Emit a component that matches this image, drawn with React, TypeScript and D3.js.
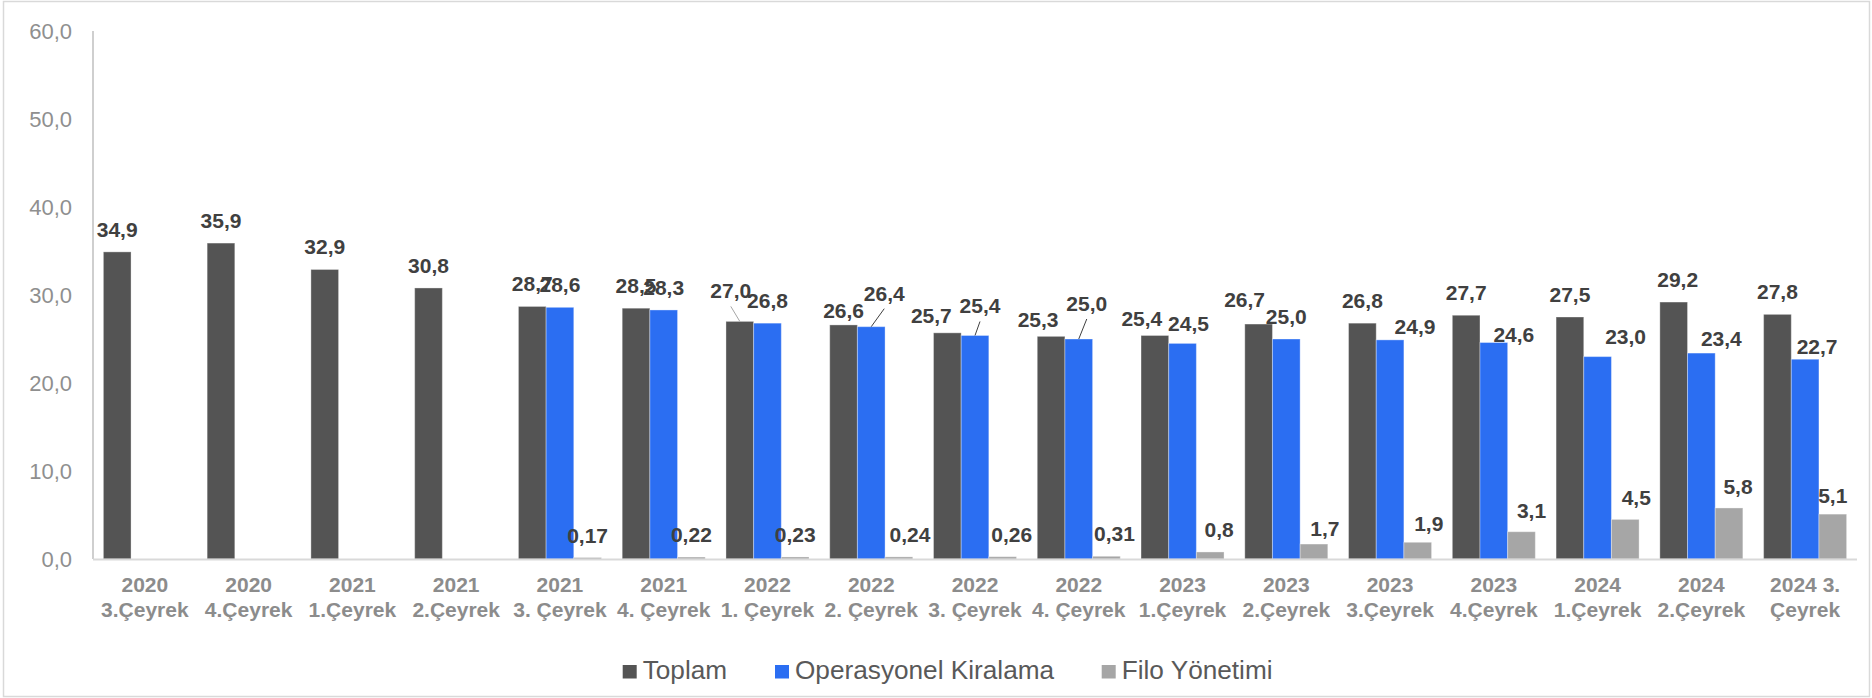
import React from "react";
import * as d3 from "d3";

const catLine1 = ["2020", "2020", "2021", "2021", "2021", "2021", "2022", "2022", "2022", "2022", "2023", "2023", "2023", "2023", "2024", "2024", "2024 3."];
const catLine2 = ["3.Çeyrek", "4.Çeyrek", "1.Çeyrek", "2.Çeyrek", "3. Çeyrek", "4. Çeyrek", "1. Çeyrek", "2. Çeyrek", "3. Çeyrek", "4. Çeyrek", "1.Çeyrek", "2.Çeyrek", "3.Çeyrek", "4.Çeyrek", "1.Çeyrek", "2.Çeyrek", "Çeyrek"];

const toplam = [34.9, 35.9, 32.9, 30.8, 28.7, 28.5, 27.0, 26.6, 25.7, 25.3, 25.4, 26.7, 26.8, 27.7, 27.5, 29.2, 27.8];
const operasyonel = [null, null, null, null, 28.6, 28.3, 26.8, 26.4, 25.4, 25.0, 24.5, 25.0, 24.9, 24.6, 23.0, 23.4, 22.7];
const filo = [null, null, null, null, 0.17, 0.22, 0.23, 0.24, 0.26, 0.31, 0.8, 1.7, 1.9, 3.1, 4.5, 5.8, 5.1];

const seriesNames = ["Toplam", "Operasyonel Kiralama", "Filo Yönetimi"];
const seriesColors = ["#545454", "#2B6EF2", "#A6A6A6"];
const yTicks = [0, 10, 20, 30, 40, 50, 60];

// manual label nudges (dx, dy) as placed in the original chart
const nudgeToplam: [number, number][] = [[0,0],[0,0],[0,0],[0,0],[0,0],[0,0],[-9,-8],[0,8],[-16,5],[-13,6],[-13,5.5],[-14,-2],[0,0],[0,0],[0,0],[4,0],[0,0]];
const nudgeOperasyonel: [number, number][] = [[0,0],[0,0],[0,0],[0,0],[0,0],[0,0],[0,0],[13,-11],[5,-7],[8,-13],[6,3],[0,0],[25,9],[20,14],[28,2],[20,8],[12,10]];
const nudgeFilo: [number, number][] = [[0,0],[0,0],[0,0],[0,0],[0,0],[0,0],[0,0],[11,0],[9,0],[8,0],[9,0],[11,7],[11,4],[10,1],[11,1],[9,1],[0,4]];
const leaderToplam = [6];
const leaderOperasyonel = [7, 8, 9];
const legendX = [622.7, 775, 1101.7];

const W = 1872;
const H = 698;
const FONT = "'Liberation Sans', Arial, Helvetica, sans-serif";

function fmtLabel(v: number) {
  const s = v < 0.5 ? d3.format(".2f")(v) : d3.format(".1f")(v);
  return s.replace(".", ",");
}
function fmtTick(v: number) {
  return d3.format(".1f")(v).replace(".", ",");
}

export default function App() {
  const x0 = d3.scaleBand<number>().domain(d3.range(toplam.length)).range([93, 1857]).paddingInner(0.2).paddingOuter(0.1);
  const x1 = d3.scaleBand<number>().domain([0, 1, 2]).range([0, x0.bandwidth()]);
  const y = d3.scaleLinear().domain([0, 60]).range([559, 31]);

  const all = [toplam, operasyonel, filo];
  const nudges = [nudgeToplam, nudgeOperasyonel, nudgeFilo];
  const leaders = [leaderToplam, leaderOperasyonel, []];

  const bars: any[] = [];
  const labels: any[] = [];
  const lines: any[] = [];
  all.forEach((vals, s) => {
    vals.forEach((v, i) => {
      if (v === null || v === undefined) return;
      const bx = (x0(i) as number) + (x1(s) as number);
      const bw = x1.bandwidth();
      const top = y(v);
      bars.push(
        <rect key={`b${s}-${i}`} x={bx} y={top} width={bw} height={y(0) - top} fill={seriesColors[s]} stroke="#ffffff" strokeOpacity={0.35} strokeWidth={1} />
      );
      const [dx, dy] = nudges[s][i];
      const cx = bx + bw / 2 + dx;
      const base = top - 15 + dy;
      labels.push(
        <text key={`l${s}-${i}`} x={cx} y={base} textAnchor="middle" fontFamily={FONT} fontWeight="bold" fontSize={21} fill="#404040">{fmtLabel(v)}</text>
      );
      if ((leaders[s] as number[]).includes(i)) {
        lines.push(
          <line key={`ld${s}-${i}`} x1={cx} y1={base + 8} x2={bx + bw / 2} y2={top} stroke={s === 0 ? "#a6a6a6" : "#404040"} strokeWidth={1} />
        );
      }
    });
  });

  const legendItems = seriesNames.map((name, s) => (
    <g key={`lg${s}`}>
      <rect x={legendX[s]} y={665} width={14} height={13.5} fill={seriesColors[s]} />
      <text x={legendX[s] + 20} y={679} fontFamily={FONT} fontSize={26.2} fill="#595959">{name}</text>
    </g>
  ));

  return (
    <svg width={W} height={H} style={{ position: "absolute", left: 0, top: 0, background: "#ffffff" }}>
      <rect x={0} y={0} width={W} height={H} fill="#ffffff" />
      <rect x={3.5} y={1.5} width={W - 6} height={H - 3} fill="none" stroke="#d9d9d9" strokeWidth={1.5} />
      {yTicks.map((t) => (
        <text key={`t${t}`} x={72} y={y(t)} dy="0.36em" textAnchor="end" fontFamily={FONT} fontSize={22} fill="#8f8f8f">{fmtTick(t)}</text>
      ))}
      <line x1={93} x2={93} y1={y(60)} y2={y(0)} stroke="#bfbfbf" strokeWidth={1.5} />
      {bars}
      <line x1={93} x2={1857} y1={y(0) + 0.5} y2={y(0) + 0.5} stroke="#d9d9d9" strokeWidth={2} />
      {lines}
      {labels}
      {toplam.map((_, i) => {
        const cx = (x0(i) as number) + x0.bandwidth() / 2;
        return (
          <g key={`c${i}`}>
            <text x={cx} y={592} textAnchor="middle" fontFamily={FONT} fontWeight="bold" fontSize={21} fill="#8c8c8c">{catLine1[i]}</text>
            <text x={cx} y={616.7} textAnchor="middle" fontFamily={FONT} fontWeight="bold" fontSize={21} fill="#8c8c8c">{catLine2[i]}</text>
          </g>
        );
      })}
      {legendItems}
    </svg>
  );
}
